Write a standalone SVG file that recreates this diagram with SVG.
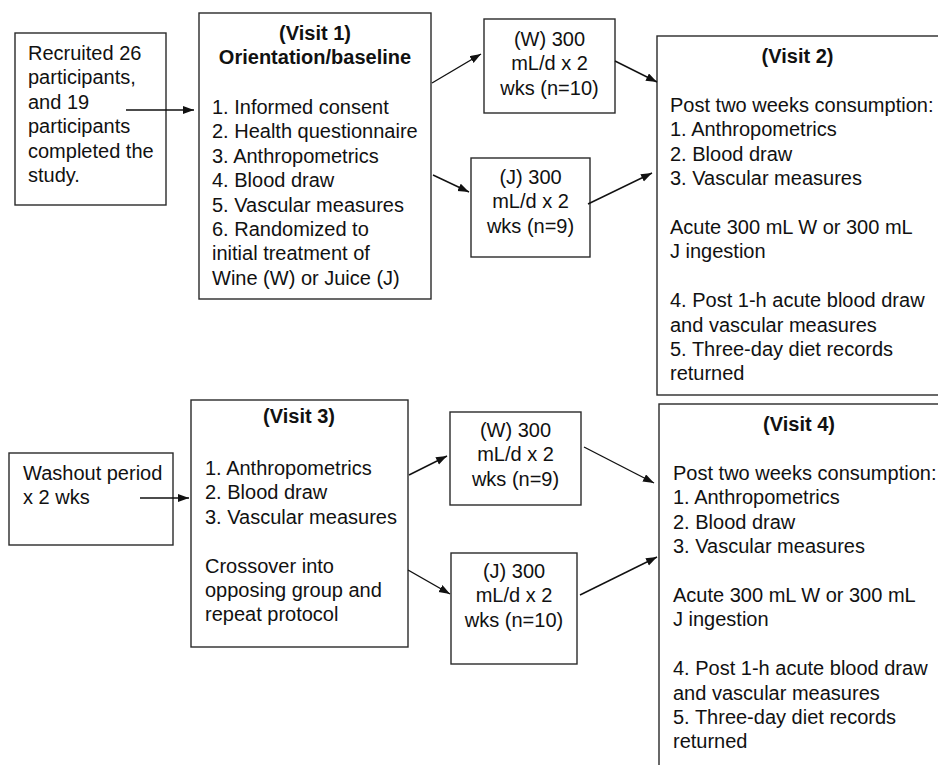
<svg xmlns="http://www.w3.org/2000/svg" width="938" height="765" viewBox="0 0 938 765">
<style>
  .box { fill: #ffffff; stroke: #2a2a2a; stroke-width: 1.4; }
  .t { font-family: "Liberation Sans", Arial, sans-serif; font-size: 20px; fill: #111111; }
  .b { font-weight: bold; text-anchor: middle; }
  .c { text-anchor: middle; }
  .conn line { stroke: #111111; stroke-width: 1.4; marker-end: url(#ah); }
</style>
<defs>
  <marker id="ah" markerUnits="userSpaceOnUse" markerWidth="12" markerHeight="10" refX="11" refY="4" orient="auto">
    <path d="M0,0 L11,4 L0,8 z" fill="#111111"/>
  </marker>
</defs>
<rect width="938" height="765" fill="#ffffff"/>

<g id="recruited">
  <rect class="box" x="15" y="33" width="151" height="172"/>
  <text class="t" x="28" y="60">Recruited 26</text>
  <text class="t" x="28" y="84.4">participants,</text>
  <text class="t" x="28" y="108.8">and 19</text>
  <text class="t" x="28" y="133.2">participants</text>
  <text class="t" x="28" y="157.6">completed the</text>
  <text class="t" x="28" y="182">study.</text>
</g>

<g id="visit1">
  <rect class="box" x="199" y="13" width="232" height="286"/>
  <text class="t b" x="315" y="40">(Visit 1)</text>
  <text class="t b" x="315" y="64">Orientation/baseline</text>
  <text class="t" x="212" y="114">1. Informed consent</text>
  <text class="t" x="212" y="138.4">2. Health questionnaire</text>
  <text class="t" x="212" y="162.8">3. Anthropometrics</text>
  <text class="t" x="212" y="187.2">4. Blood draw</text>
  <text class="t" x="212" y="211.6">5. Vascular measures</text>
  <text class="t" x="212" y="236">6. Randomized to</text>
  <text class="t" x="212" y="260.4">initial treatment of</text>
  <text class="t" x="212" y="284.8">Wine (W) or Juice (J)</text>
</g>

<g id="w1">
  <rect class="box" x="484" y="19" width="131" height="94"/>
  <text class="t c" x="549.5" y="46">(W) 300</text>
  <text class="t c" x="549.5" y="70.4">mL/d x 2</text>
  <text class="t c" x="549.5" y="94.8">wks (n=10)</text>
</g>

<g id="j1">
  <rect class="box" x="471" y="158" width="119" height="99"/>
  <text class="t c" x="530.5" y="184">(J) 300</text>
  <text class="t c" x="530.5" y="208.4">mL/d x 2</text>
  <text class="t c" x="530.5" y="232.8">wks (n=9)</text>
</g>

<g id="visit2">
  <rect class="box" x="657" y="36" width="300" height="359"/>
  <text class="t b" x="797.5" y="63">(Visit 2)</text>
  <text class="t" x="670" y="112">Post two weeks consumption:</text>
  <text class="t" x="670" y="136.4">1. Anthropometrics</text>
  <text class="t" x="670" y="160.8">2. Blood draw</text>
  <text class="t" x="670" y="185.2">3. Vascular measures</text>
  <text class="t" x="670" y="234">Acute 300 mL W or 300 mL</text>
  <text class="t" x="670" y="258.4">J ingestion</text>
  <text class="t" x="670" y="307.2">4. Post 1-h acute blood draw</text>
  <text class="t" x="670" y="331.6">and vascular measures</text>
  <text class="t" x="670" y="356">5. Three-day diet records</text>
  <text class="t" x="670" y="380.4">returned</text>
</g>

<g id="washout">
  <rect class="box" x="9" y="453" width="164" height="92"/>
  <text class="t" x="23" y="480">Washout period</text>
  <text class="t" x="23" y="504.4">x 2 wks</text>
</g>

<g id="visit3">
  <rect class="box" x="191" y="400" width="217" height="247"/>
  <text class="t b" x="299" y="423">(Visit 3)</text>
  <text class="t" x="205" y="475">1. Anthropometrics</text>
  <text class="t" x="205" y="499.4">2. Blood draw</text>
  <text class="t" x="205" y="523.8">3. Vascular measures</text>
  <text class="t" x="205" y="572.6">Crossover into</text>
  <text class="t" x="205" y="597">opposing group and</text>
  <text class="t" x="205" y="621.4">repeat protocol</text>
</g>

<g id="w2">
  <rect class="box" x="450" y="412" width="131" height="93"/>
  <text class="t c" x="515.5" y="437">(W) 300</text>
  <text class="t c" x="515.5" y="461.4">mL/d x 2</text>
  <text class="t c" x="515.5" y="485.8">wks (n=9)</text>
</g>

<g id="j2">
  <rect class="box" x="451" y="553" width="126" height="111"/>
  <text class="t c" x="514" y="578">(J) 300</text>
  <text class="t c" x="514" y="602.4">mL/d x 2</text>
  <text class="t c" x="514" y="626.8">wks (n=10)</text>
</g>

<g id="visit4">
  <rect class="box" x="659" y="404" width="300" height="380"/>
  <text class="t b" x="799" y="431">(Visit 4)</text>
  <text class="t" x="673" y="480">Post two weeks consumption:</text>
  <text class="t" x="673" y="504.4">1. Anthropometrics</text>
  <text class="t" x="673" y="528.8">2. Blood draw</text>
  <text class="t" x="673" y="553.2">3. Vascular measures</text>
  <text class="t" x="673" y="602">Acute 300 mL W or 300 mL</text>
  <text class="t" x="673" y="626.4">J ingestion</text>
  <text class="t" x="673" y="675.2">4. Post 1-h acute blood draw</text>
  <text class="t" x="673" y="699.6">and vascular measures</text>
  <text class="t" x="673" y="724">5. Three-day diet records</text>
  <text class="t" x="673" y="748.4">returned</text>
</g>

<g id="connectors" class="conn">
  <line x1="126" y1="110" x2="194" y2="110"/>
  <line x1="432" y1="83" x2="481" y2="54"/>
  <line x1="433" y1="175" x2="469" y2="192"/>
  <line x1="615" y1="61" x2="657" y2="82"/>
  <line x1="588" y1="204" x2="652" y2="173"/>
  <line x1="140" y1="498" x2="189" y2="498"/>
  <line x1="409" y1="475" x2="447" y2="456"/>
  <line x1="408" y1="570" x2="450" y2="594"/>
  <line x1="584" y1="447" x2="654" y2="483"/>
  <line x1="580" y1="595" x2="657" y2="557"/>
</g>
</svg>
